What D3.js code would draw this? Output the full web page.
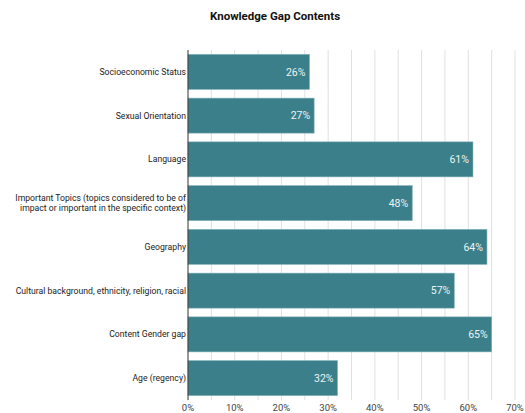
<!DOCTYPE html>
<html><head><meta charset="utf-8">
<script src="https://cdn.jsdelivr.net/npm/d3@7"></script>
<style>body{margin:0;background:#fff;font-family:Roboto,"Noto Sans",sans-serif;}</style>
</head><body>
<svg id="c" width="525" height="413"></svg>
<script>
const categories = [
  "Socioeconomic Status",
  "Sexual Orientation",
  "Language",
  "Important Topics (topics considered to be of|impact or important in the specific context)",
  "Geography",
  "Cultural background, ethnicity, religion, racial",
  "Content Gender gap",
  "Age (regency)"
];
const values = [26, 27, 61, 48, 64, 57, 65, 32];
const tickValues = [0, 10, 20, 30, 40, 50, 60, 70];
const title = "Knowledge Gap Contents";

const svg = d3.select("#c");
const m = {left: 188, top: 50};
const x = d3.scaleLinear().domain([0, 70]).range([m.left, m.left + 327]);
const y = d3.scaleBand().domain(categories).range([m.top, 400]).paddingInner(0.2).paddingOuter(0.1);

svg.append("text").attr("x", 275).attr("y", 20).attr("text-anchor", "middle")
  .attr("font-size", 11.5).attr("font-weight", "bold").attr("fill", "#111").text(title);

// gridlines every 5%
svg.append("g").selectAll("line").data(d3.range(5, 75, 5)).join("line")
  .attr("x1", d => x(d)).attr("x2", d => x(d)).attr("y1", m.top).attr("y2", 400)
  .attr("stroke", "#e0e0e0").attr("stroke-width", 1);

// bars
svg.append("g").selectAll("rect").data(values).join("rect")
  .attr("x", x(0)).attr("y", (d, i) => y(categories[i]))
  .attr("width", d => x(d) - x(0)).attr("height", y.bandwidth())
  .attr("fill", "#3a7f8a").attr("stroke", "#7fb0b8").attr("stroke-width", 0.6);

// value labels
svg.append("g").selectAll("text").data(values).join("text")
  .attr("x", d => x(d) - 4).attr("y", (d, i) => y(categories[i]) + y.bandwidth() / 2)
  .attr("dy", "0.35em").attr("text-anchor", "end").attr("font-size", 10.5)
  .attr("fill", "#eef4f4").text(d => d + "%");

// axis line
svg.append("line").attr("x1", x(0)).attr("x2", x(0)).attr("y1", m.top).attr("y2", 400)
  .attr("stroke", "#333").attr("stroke-width", 1);

// category labels
const cl = svg.append("g").selectAll("text").data(categories).join("text")
  .attr("text-anchor", "end").attr("font-size", 9).attr("fill", "#222")
  .attr("transform", d => `translate(${x(0) - 2},${y(d) + y.bandwidth() / 2})`);
cl.each(function(d) {
  const lines = d.split("|");
  const t = d3.select(this);
  lines.forEach((ln, i) => {
    t.append("tspan").attr("x", 0)
      .attr("dy", i === 0 ? (0.35 - (lines.length - 1) * 0.6) + "em" : "1.2em").text(ln);
  });
});
// fit widest label to the reference width (~172px)
let maxW = 0;
cl.each(function() { maxW = Math.max(maxW, this.getBBox().width); });
const fs = 9 * Math.min(1, 172 / maxW);
cl.attr("font-size", fs);

// x tick labels
svg.append("g").selectAll("text").data(tickValues).join("text")
  .attr("x", d => x(d)).attr("y", 411).attr("text-anchor", "middle")
  .attr("font-size", 9.5).attr("fill", "#444").text(d => d + "%");
</script>
</body></html>
